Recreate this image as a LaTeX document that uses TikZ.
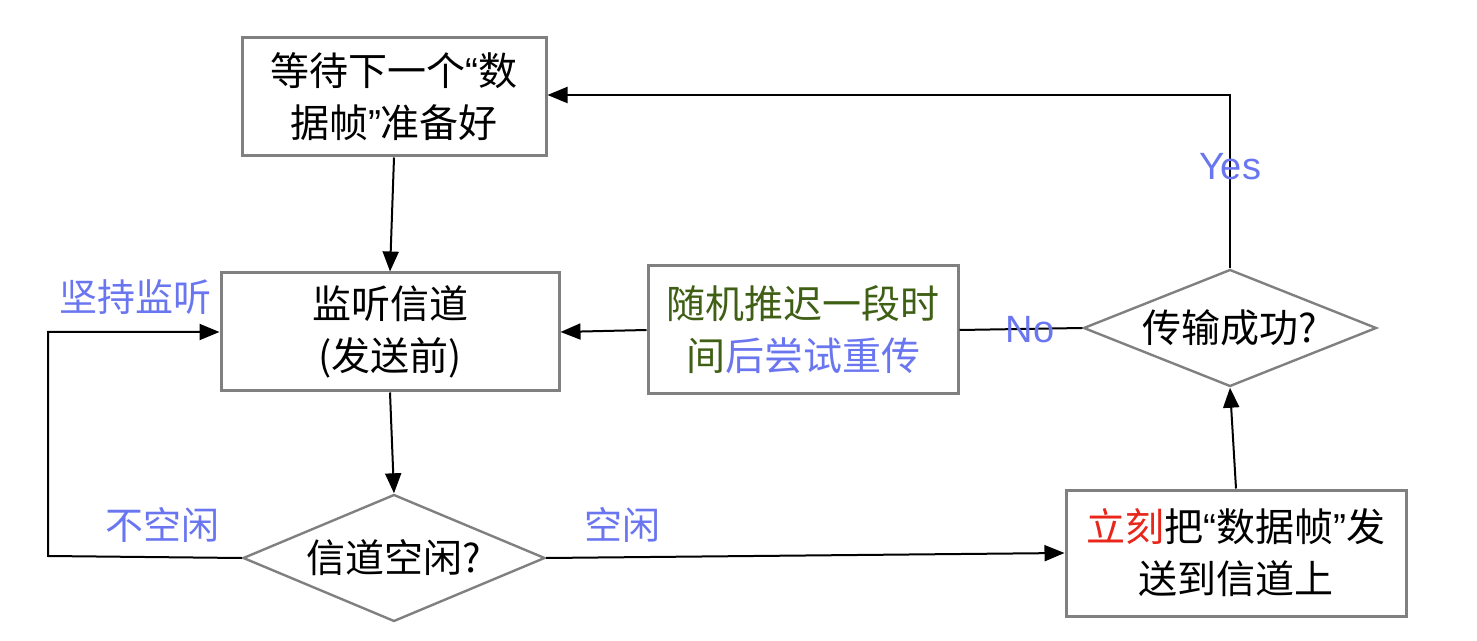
\documentclass[tikz,border=0pt]{standalone}
\usepackage{fontspec}
\setmainfont{Noto Sans CJK SC}
\newfontfamily\latq{Liberation Sans}
\usetikzlibrary{shapes.geometric,arrows.meta}
\definecolor{lblblue}{RGB}{106,118,240}
\definecolor{dkgreen}{RGB}{62,95,20}
\definecolor{redtxt}{RGB}{232,38,26}
\definecolor{bordergray}{RGB}{128,128,128}
\newcommand{\myLq}{{\latq “}}
\newcommand{\myRq}{{\latq ”}}
\tikzset{
  box/.style={draw=bordergray,line width=1.5pt,fill=white,align=center,inner sep=0pt,font=\fontsize{19.5pt}{26pt}\selectfont},
  dia/.style={diamond,draw=bordergray,line width=1.2pt,fill=white,align=center,inner sep=0pt,font=\fontsize{19.5pt}{26pt}\selectfont},
  conn/.style={line width=1pt,-{Triangle[length=10pt,width=8pt]}},
  plain/.style={line width=1pt},
  lbl/.style={text=lblblue,font=\fontsize{19pt}{22pt}\selectfont,inner sep=0pt},
  lbllat/.style={text=lblblue,font=\latq\fontsize{19pt}{22pt}\selectfont,inner sep=0pt}
}
\begin{document}
\begin{tikzpicture}[x=0.5pt,y=-0.5pt]
\useasboundingbox (0,0) rectangle (1477,641);
\node[box,minimum width=152pt,minimum height=59pt] (b1) at (394,97) {等待下一个\myLq 数\\据帧\myRq 准备好};
\node[box,minimum width=169pt,minimum height=59pt] (b2) at (390,332) {监听信道\\(发送前)};
\node[box,minimum width=155pt,minimum height=64pt] (b3) at (803,330) {\textcolor{dkgreen}{随机推迟一段时}\\\textcolor{dkgreen}{间}\textcolor{lblblue}{后尝试重传}};
\node[box,minimum width=170pt,minimum height=63pt] (b4) at (1236,553) {\textcolor{redtxt}{立刻}把\myLq 数据帧\myRq 发\\送到信道上};
\node[dia,aspect=2.5,minimum width=146.5pt,minimum height=58.5pt] (d1) at (1230,328) {传输成功?};
\node[dia,aspect=2.38,minimum width=151pt,minimum height=63.5pt] (d2) at (394,558) {信道空闲?};
\coordinate (lp) at (48,556);
\draw[conn] (b1.south) -- (b2.north);
\draw[conn] (b2.south) -- (d2.north);
\draw[conn] (d2.east) -- (b4.west);
\draw[conn] (b4.north) -- (d1.south);
\draw[conn] (d1.north) |- ([yshift=1pt]b1.east);
\draw[plain] (d1.west) -- (b3.east);
\draw[conn] (b3.west) -- (b2.east);
\draw[conn] (d2.west) -- (lp) |- (b2.west);
\node[lbllat] (yes) at (1230,167) {Yes};
\node[lbllat] (no) at (1030,330) {No};
\node[lbl] (kx) at (622,525) {空闲};
\node[lbl] (bkx) at (162,525) {不空闲};
\node[lbl] (jc) at (135,297) {坚持监听};
\end{tikzpicture}
\end{document}
